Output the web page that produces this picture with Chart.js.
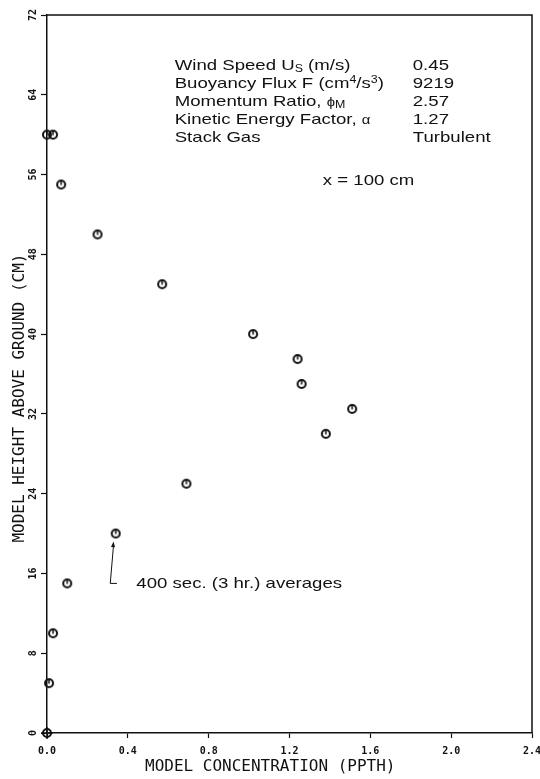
<!DOCTYPE html>
<html>
<head>
<meta charset="utf-8">
<style>
  html, body { margin: 0; padding: 0; background: #fff; }
  #wrap { width: 540px; height: 779px; }
</style>
</head>
<body>
<div id="wrap"><canvas id="chart" width="540" height="779"></canvas></div>
<script src="https://cdn.jsdelivr.net/npm/chart.js@4/dist/chart.umd.min.js"></script>
<script>
// model concentration (PPTH) vs model height above ground (CM)
const concentration = [0.0, 0.01, 0.03, 0.10, 0.34, 0.69, 1.38, 1.51, 1.26, 1.24, 1.02, 0.57, 0.25, 0.07, 0.0, 0.03];
const heightCm      = [0,   5,    10,   15,   20,   25,   30,   32.5, 35,   37.5, 40,   45,   50,   55,   60,  60];

const xTicks = [0.0, 0.4, 0.8, 1.2, 1.6, 2.0, 2.4];
const yTicks = [0, 8, 16, 24, 32, 40, 48, 56, 64, 72];

const infoLabels = [
    ["Wind Speed U", {t: "S", sub: true}, " (m/s)"],
    ["Buoyancy Flux F (cm", {t: "4", sup: true}, "/s", {t: "3", sup: true}, ")"],
    ["Momentum Ratio, ", {t: "\u03D5", small: true}, {t: "M", sub: true}],
    ["Kinetic Energy Factor, ", {t: "\u03B1", small: true}],
    ["Stack Gas"]
];
const infoValues = ["0.45", "9219", "2.57", "1.27", "Turbulent"];
const distanceNote = "x = 100 cm";
const averagesNote = "400 sec. (3 hr.) averages";

////////////////////////////////////////////////////////////////////////////////////

const ink = "#111";
const monoFont = "'DejaVu Sans Mono', 'Liberation Mono', monospace";
const sansFont = "'Liberation Sans', Arial, sans-serif";

function makeMarker(cross) {
    const c = document.createElement("canvas");
    c.width = 14; c.height = 14;
    const g = c.getContext("2d");
    g.strokeStyle = ink;
    g.lineWidth = 2;
    g.beginPath();
    g.arc(7, 7, 4, 0, Math.PI * 2);
    g.stroke();
    g.lineWidth = 1.5;
    g.beginPath();
    if (cross) {
        g.moveTo(1, 7); g.lineTo(13, 7);
        g.moveTo(7, 1); g.lineTo(7, 13);
    } else {
        g.moveTo(7, 3.5); g.lineTo(7, 7.5);
    }
    g.stroke();
    return c;
}
const markerPlain = makeMarker(false);
const markerOrigin = makeMarker(true);

function drawRuns(ctx, x, y, runs) {
    let cx = 0;
    ctx.save();
    ctx.translate(x, y);
    ctx.scale(1.24, 1);
    ctx.textBaseline = "middle";
    ctx.textAlign = "left";
    for (const r of runs) {
        const run = typeof r === "string" ? {t: r} : r;
        let dy = 0;
        if (run.sub) { ctx.font = "10px " + sansFont; dy = 3; }
        else if (run.sup) { ctx.font = "10px " + sansFont; dy = -4; }
        else if (run.small) { ctx.font = "12px " + sansFont; dy = 1; }
        else ctx.font = "15px " + sansFont;
        ctx.fillText(run.t, cx, dy);
        cx += ctx.measureText(run.t).width;
    }
    ctx.restore();
}

const notesPlugin = {
    id: "notes",
    afterDraw(chart) {
        const {ctx, chartArea: a, scales: {x, y}} = chart;
        ctx.save();
        // frame top + right
        ctx.strokeStyle = ink;
        ctx.lineWidth = 1.5;
        ctx.beginPath();
        ctx.moveTo(a.left, a.top);
        ctx.lineTo(a.right, a.top);
        ctx.lineTo(a.right, a.bottom);
        ctx.stroke();

        ctx.fillStyle = ink;
        const rows = [66.9, 65.1, 63.3, 61.5, 59.7];
        infoLabels.forEach((runs, i) => {
            drawRuns(ctx, x.getPixelForValue(0.632), y.getPixelForValue(rows[i]), runs);
            drawRuns(ctx, x.getPixelForValue(1.81), y.getPixelForValue(rows[i]), [infoValues[i]]);
        });
        drawRuns(ctx, x.getPixelForValue(1.365), y.getPixelForValue(55.4), [distanceNote]);
        drawRuns(ctx, x.getPixelForValue(0.442), y.getPixelForValue(15.0), [averagesNote]);

        // arrow to the 20 cm point
        const cx0 = x.getPixelForValue(0.313), cy0 = y.getPixelForValue(15.0);
        const hx = x.getPixelForValue(0.346);
        const tx = x.getPixelForValue(0.329), ty = y.getPixelForValue(19.2);
        ctx.lineWidth = 1;
        ctx.beginPath();
        ctx.moveTo(hx, cy0);
        ctx.lineTo(cx0, cy0);
        ctx.lineTo(tx, ty + 4);
        ctx.stroke();
        const ang = Math.atan2(ty - cy0, tx - cx0);
        ctx.beginPath();
        ctx.moveTo(tx, ty);
        ctx.lineTo(tx - 6 * Math.cos(ang - 0.35), ty - 6 * Math.sin(ang - 0.35));
        ctx.lineTo(tx - 6 * Math.cos(ang + 0.35), ty - 6 * Math.sin(ang + 0.35));
        ctx.closePath();
        ctx.fill();
        ctx.restore();
    }
};

const points = concentration.map((v, i) => ({x: v, y: heightCm[i]}));

const chart = new Chart(document.querySelector("#chart"), {
    type: "scatter",
    data: {
        datasets: [
            {
                label: "averages",
                data: points,
                pointStyle: (c) => (c.raw && c.raw.x === 0 && c.raw.y === 0) ? markerOrigin : markerPlain,
                pointRadius: 5,
                clip: false
            }
        ]
    },
    options: {
        responsive: false,
        animation: false,
        devicePixelRatio: 1,
        layout: { padding: { top: 15, right: 8, left: 0, bottom: 0 } },
        plugins: { legend: { display: false }, tooltip: { enabled: false } },
        scales: {
            x: {
                type: "linear",
                min: 0,
                max: 2.4,
                afterBuildTicks: (s) => { s.ticks = xTicks.map(v => ({value: v})); },
                afterFit: (s) => { s.height = 46; s.paddingRight = 0; s.paddingLeft = 0; },
                border: { color: ink, width: 1.5 },
                grid: { drawOnChartArea: false, drawTicks: true, tickLength: 5, tickColor: ink, tickWidth: 1.2 },
                ticks: {
                    color: ink,
                    padding: 7,
                    maxRotation: 0,
                    font: { family: monoFont, size: 10, weight: "bold" },
                    callback: (v) => Number(v).toFixed(1)
                },
                title: {
                    display: true,
                    text: "MODEL CONCENTRATION (PPTH)    ",
                    color: ink,
                    padding: { top: 0, bottom: 3 },
                    font: { family: monoFont, size: 16 }
                }
            },
            y: {
                type: "linear",
                min: 0,
                max: 72,
                afterBuildTicks: (s) => { s.ticks = yTicks.map(v => ({value: v})); },
                afterFit: (s) => { s.width = 47; s.paddingTop = 0; s.paddingBottom = 0; },
                border: { color: ink, width: 1.5 },
                grid: { drawOnChartArea: false, drawTicks: true, tickLength: 6, tickColor: ink, tickWidth: 1.2 },
                ticks: {
                    color: ink,
                    padding: 2,
                    minRotation: 90,
                    maxRotation: 90,
                    crossAlign: "center",
                    font: { family: monoFont, size: 10, weight: "bold" }
                },
                title: {
                    display: true,
                    text: "MODEL HEIGHT ABOVE GROUND (CM)     ",
                    color: ink,
                    padding: { top: 10, bottom: 0 },
                    font: { family: monoFont, size: 16 }
                }
            }
        }
    },
    plugins: [notesPlugin]
});
</script>
</body>
</html>
